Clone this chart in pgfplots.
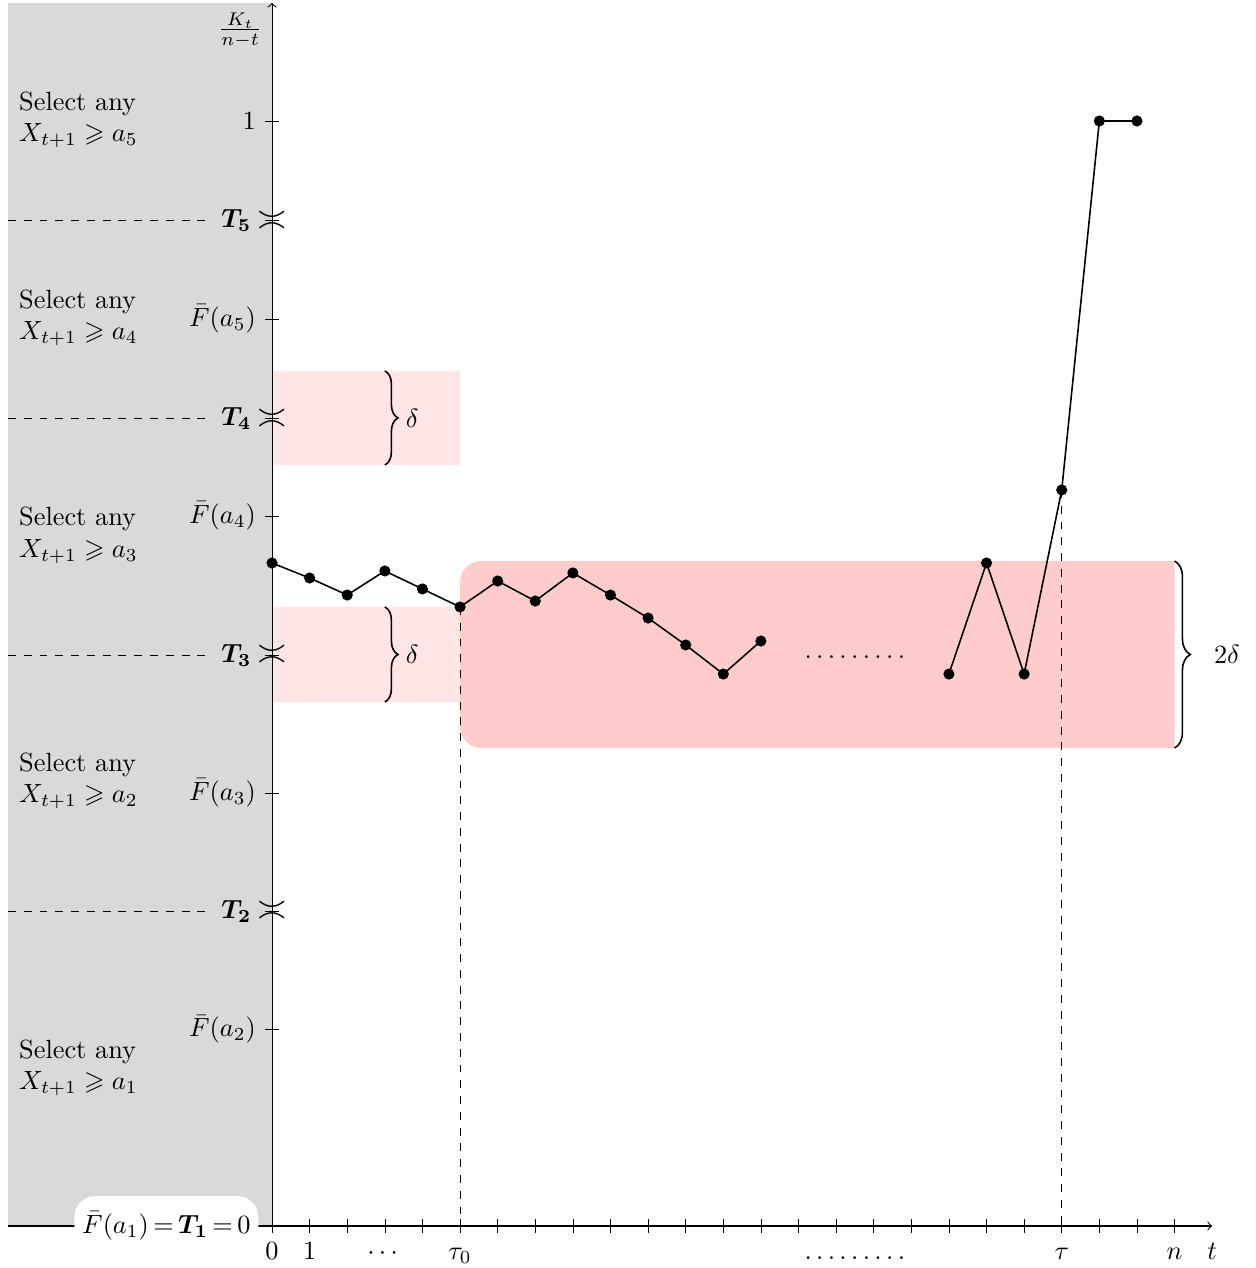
\documentclass[border=0pt]{standalone}
\usepackage{amsmath,amssymb}
\usepackage{pgfplots}
\pgfplotsset{compat=1.18}
\usetikzlibrary{decorations.pathreplacing}
\begin{document}
\begin{tikzpicture}
\begin{axis}[
  x=14.3pt, y=420.2pt,
  axis lines=middle,
  axis line style={->},
  xmin=-7.02, xmax=25.0, ymin=0, ymax=1.107,
  enlargelimits=false,
  clip=false,
  set layers,
  xtick={0,...,24},
  xticklabels={$0$,$1$,,$\cdots$,,$\tau_0$,,,,,,,,,,,,,,,,$\tau$,,,$n$},
  extra x ticks={15.5,25},
  extra x tick labels={$\ldots\ldots\ldots$,$t$},
  extra x tick style={tick style={draw=none}},
  xticklabel style={text height=6.5pt, text depth=2pt},
  ytick={0,0.178,0.285,0.392,0.5167,0.6425,0.731,0.821,0.910,1},
  yticklabels={,$\bar F(a_2)$,,$\bar F(a_3)$,,$\bar F(a_4)$,,$\bar F(a_5)$,,$1$},
  tick align=center,
  major tick length=5.3pt,
  hide obscured x ticks=false,
  hide obscured y ticks=false,
  tick style={black},
]
\begin{pgfonlayer}{axis background}
\fill[black!15] (axis cs:-7.02,0) rectangle (axis cs:0,1.107);
\fill[red!10] (axis cs:0,0.6887) rectangle (axis cs:5,0.7738);
\fill[red!10] (axis cs:0,0.4742) rectangle (axis cs:5,0.5602);
\fill[red!20] (axis cs:24,0.6018) [rounded corners=8pt] -- (axis cs:5,0.6018) -- (axis cs:5,0.4326) [sharp corners] -- (axis cs:24,0.4326) -- cycle;
\end{pgfonlayer}

% T levels
\draw[dashed] (axis cs:-7.02,0.910) -- (axis cs:-1.78,0.910);
\node at (axis cs:-0.95,0.910) {$\boldsymbol{T_5}$};
\node[inner sep=0pt] at (axis cs:0,0.910) {\Large$\asymp$};
\draw[dashed] (axis cs:-7.02,0.731) -- (axis cs:-1.78,0.731);
\node at (axis cs:-0.95,0.731) {$\boldsymbol{T_4}$};
\node[inner sep=0pt] at (axis cs:0,0.731) {\Large$\asymp$};
\draw[dashed] (axis cs:-7.02,0.5167) -- (axis cs:-1.78,0.5167);
\node at (axis cs:-0.95,0.5167) {$\boldsymbol{T_3}$};
\node[inner sep=0pt] at (axis cs:0,0.5167) {\Large$\asymp$};
\draw[dashed] (axis cs:-7.02,0.285) -- (axis cs:-1.78,0.285);
\node at (axis cs:-0.95,0.285) {$\boldsymbol{T_2}$};
\node[inner sep=0pt] at (axis cs:0,0.285) {\Large$\asymp$};

% selection labels
\node[anchor=west, align=left] at (axis cs:-6.97,1.001) {Select any\\$X_{t+1}\geqslant a_5$};
\node[anchor=west, align=left] at (axis cs:-6.97,0.822) {Select any\\$X_{t+1}\geqslant a_4$};
\node[anchor=west, align=left] at (axis cs:-6.97,0.625) {Select any\\$X_{t+1}\geqslant a_3$};
\node[anchor=west, align=left] at (axis cs:-6.97,0.403) {Select any\\$X_{t+1}\geqslant a_2$};
\node[anchor=west, align=left] at (axis cs:-6.97,0.143) {Select any\\$X_{t+1}\geqslant a_1$};

\node at (axis cs:-0.85,1.082) {$\frac{K_t}{n-t}$};

\node[anchor=east, fill=white, rounded corners=8pt, inner xsep=3pt, inner ysep=6pt, xshift=-5pt] at (axis cs:0,0) {$\bar F(a_1)\,{=}\,\boldsymbol{T_1}\,{=}\,0$};

% dashed verticals
\draw[dashed] (axis cs:5,0.5602) -- (axis cs:5,0);
\draw[dashed] (axis cs:21,0.6661) -- (axis cs:21,0);

% braces
\draw[semithick, decorate, decoration={brace, amplitude=5pt}] (axis cs:3,0.7738) -- (axis cs:3,0.6887);
\node[anchor=west, xshift=4.5pt] at (axis cs:3,0.7313) {$\delta$};
\draw[semithick, decorate, decoration={brace, amplitude=5pt}] (axis cs:3,0.5602) -- (axis cs:3,0.4742);
\node[anchor=west, xshift=4.5pt] at (axis cs:3,0.5172) {$\delta$};
\draw[semithick, decorate, decoration={brace, amplitude=6pt}] (axis cs:24,0.6018) -- (axis cs:24,0.4326);
\node[anchor=west, xshift=11.5pt] at (axis cs:24,0.5172) {$2\delta$};

\node at (axis cs:15.5,0.5149) {$\ldots\ldots\ldots$};

\addplot[semithick, black, mark=*, mark size=1.8pt] coordinates {
(0,0.6000) (1,0.5864) (2,0.5710) (3,0.5928) (4,0.5765) (5,0.5602)
(6,0.5837) (7,0.5656) (8,0.5910) (9,0.5710) (10,0.5502) (11,0.5258)
(12,0.4995) (13,0.5294)};
\addplot[semithick, black, mark=*, mark size=1.8pt] coordinates {
(18,0.4995) (19,0.6000) (20,0.4995) (21,0.6661) (22,1.0) (23,1.0)};

\coordinate (bbsw) at (axis cs:-7.234,-0.038);
\coordinate (bbne) at (axis cs:26.14,1.1095);
\end{axis}
\pgfresetboundingbox
\useasboundingbox (bbsw) rectangle (bbne);
\end{tikzpicture}
\end{document}
